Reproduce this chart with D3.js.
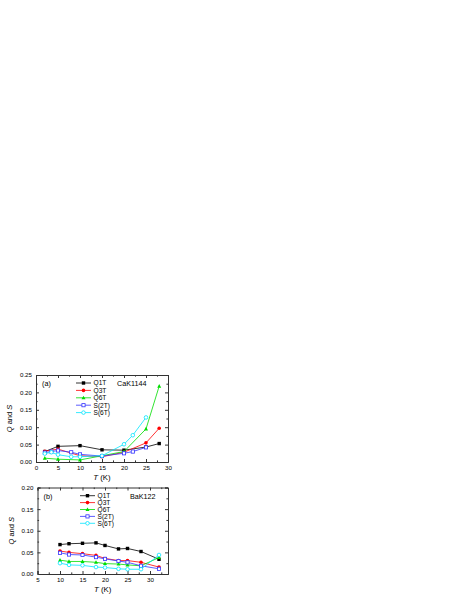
<!DOCTYPE html>
<html><head><meta charset="utf-8">
<script src="https://cdn.jsdelivr.net/npm/d3@7"></script>
<style>body{margin:0;background:#fff}svg{display:block;font-family:"Liberation Sans",Arial,sans-serif}</style>
</head><body>
<script>
// Panel (a) CaK1144
const aQx = [2, 5, 10, 15, 20, 25, 28];
const aQ1T = [0.030, 0.045, 0.047, 0.035, 0.034, 0.043, 0.053];
const aQ3T = [0.031, 0.037, 0.018, 0.015, 0.028, 0.055, 0.097];
const aQ6T = [0.011, 0.008, 0.006, 0.018, 0.030, 0.095, 0.218];
const aSx = [2, 3.5, 5, 8, 10, 15, 20, 22, 25];
const aS2T = [0.027, 0.030, 0.033, 0.028, 0.022, 0.017, 0.025, 0.030, 0.042];
const aS6T = [0.024, 0.028, 0.021, 0.015, 0.015, 0.018, 0.051, 0.077, 0.128];
const aXTicks = [0, 5, 10, 15, 20, 25, 30];
const aYTicks = [0.00, 0.05, 0.10, 0.15, 0.20, 0.25];
// Panel (b) BaK122
const bX = [10, 12, 15, 18, 20, 23, 25, 28, 32];
const bQ1T = [0.068, 0.070, 0.071, 0.072, 0.066, 0.058, 0.059, 0.052, 0.034];
const bQ3T = [0.053, 0.050, 0.047, 0.043, 0.036, 0.031, 0.031, 0.027, 0.016];
const bQ6T = [0.032, 0.029, 0.029, 0.027, 0.024, 0.023, 0.021, 0.019, 0.038];
const bS2T = [0.049, 0.045, 0.044, 0.039, 0.035, 0.030, 0.027, 0.019, 0.012];
const bS6T = [0.025, 0.021, 0.020, 0.016, 0.015, 0.012, 0.011, 0.011, 0.044];
const bXTicks = [5, 10, 15, 20, 25, 30];
const bYTicks = [0.00, 0.05, 0.10, 0.15, 0.20];
const seriesNames = ["Q1T", "Q3T", "Q6T", "S(2T)", "S(6T)"];
const colors = ["#000000", "#ff0000", "#00dd00", "#3333ff", "#00e5ff"];
const symbols = ["square", "circle", "triangle", "osquare", "ocircle"];

const svg = d3.select("body").append("svg").attr("width", 463).attr("height", 599);

function marker(g, type, x, y, color) {
  if (type === "square") g.append("rect").attr("x", x-1.7).attr("y", y-1.7).attr("width", 3.4).attr("height", 3.4).attr("fill", color);
  else if (type === "circle") g.append("circle").attr("cx", x).attr("cy", y).attr("r", 1.8).attr("fill", color);
  else if (type === "triangle") g.append("path").attr("d", `M${x},${y-2.1}L${x+2},${y+1.5}L${x-2},${y+1.5}Z`).attr("fill", color);
  else if (type === "osquare") g.append("rect").attr("x", x-1.6).attr("y", y-1.6).attr("width", 3.2).attr("height", 3.2).attr("fill", "#fff").attr("stroke", color).attr("stroke-width", 0.8);
  else if (type === "ocircle") g.append("circle").attr("cx", x).attr("cy", y).attr("r", 1.8).attr("fill", "#fff").attr("stroke", color).attr("stroke-width", 0.8);
}

function panel(opt) {
  const x = d3.scaleLinear().domain(opt.xd).range([opt.l, opt.r]);
  const y = d3.scaleLinear().domain(opt.yd).range([opt.b, opt.t]);
  const g = svg.append("g");
  const axCol = "#333";
  const xMinor = d3.range(opt.xd[0], opt.xd[1] + 0.001, 2.5).filter(v => !opt.xt.includes(v));
  const yMinor = d3.range(opt.yd[0], opt.yd[1] + 0.0001, 0.025).filter(v => !opt.yt.some(t => Math.abs(t - v) < 1e-6));
  function ax(axisFn, scale, ticks, minor, transform, labels) {
    const a = g.append("g").attr("transform", transform)
      .call(axisFn(scale).tickValues(ticks).tickSize(-3).tickPadding(labels ? 4 : 0)
        .tickFormat(labels ? (labels === "y" ? d3.format(".2f") : d3.format("d")) : ""));
    a.select(".domain").attr("stroke", axCol).attr("stroke-width", 1);
    a.selectAll(".tick line").attr("stroke", axCol);
    a.selectAll("text").attr("font-size", 6.2).attr("fill", "#000");
    const m = g.append("g").attr("transform", transform)
      .call(axisFn(scale).tickValues(minor).tickSize(-1.6).tickFormat(""));
    m.select(".domain").remove();
    m.selectAll(".tick line").attr("stroke", axCol);
  }
  ax(d3.axisBottom, x, opt.xt, xMinor, `translate(0,${opt.b})`, "x");
  ax(d3.axisTop, x, opt.xt, xMinor, `translate(0,${opt.t})`, null);
  ax(d3.axisLeft, y, opt.yt, yMinor, `translate(${opt.l},0)`, "y");
  ax(d3.axisRight, y, opt.yt, yMinor, `translate(${opt.r},0)`, null);

  const line = d3.line().x(d => x(d[0])).y(d => y(d[1]));
  opt.series.forEach((s, i) => {
    const pts = s.x.map((v, j) => [v, s.y[j]]);
    g.append("path").attr("d", line(pts)).attr("fill", "none").attr("stroke", colors[i]).attr("stroke-width", 0.8);
    pts.forEach(p => marker(g, symbols[i], x(p[0]), y(p[1]), colors[i]));
  });
  seriesNames.forEach((n, i) => {
    const ly = opt.legY + i * opt.legDy;
    g.append("line").attr("x1", opt.legX).attr("x2", opt.legX + 15).attr("y1", ly).attr("y2", ly)
      .attr("stroke", colors[i]).attr("stroke-width", 0.8);
    marker(g, symbols[i], opt.legX + 7.5, ly, colors[i]);
    g.append("text").attr("x", opt.legX + 17.5).attr("y", ly + 2.3).attr("font-size", 6.6).text(n);
  });
  g.append("text").attr("x", opt.l + 6).attr("y", opt.t + 11).attr("font-size", 7.2).text(opt.tag);
  g.append("text").attr("x", opt.nameX).attr("y", opt.t + 11).attr("font-size", 7.2).text(opt.name);
  const xt = g.append("text").attr("x", (opt.l + opt.r) / 2).attr("y", opt.b + 17.5).attr("text-anchor", "middle").attr("font-size", 7.8);
  xt.append("tspan").attr("font-style", "italic").text("T");
  xt.append("tspan").text(" (K)");
  const yt = g.append("text").attr("transform", `translate(${opt.l - 24},${(opt.t + opt.b) / 2}) rotate(-90)`).attr("text-anchor", "middle").attr("font-size", 7.5);
  yt.append("tspan").attr("font-style", "italic").text("Q");
  yt.append("tspan").text(" and ");
  yt.append("tspan").attr("font-style", "italic").text("S");
}

panel({
  l: 36, r: 168, t: 375, b: 462, xd: [0, 30], yd: [0, 0.25], xt: aXTicks, yt: aYTicks,
  series: [{x: aQx, y: aQ1T}, {x: aQx, y: aQ3T}, {x: aQx, y: aQ6T}, {x: aSx, y: aS2T}, {x: aSx, y: aS6T}],
  legX: 76, legY: 383, legDy: 7.4, tag: "(a)", name: "CaK1144", nameX: 117
});
panel({
  l: 37.5, r: 168, t: 487.5, b: 574, xd: [5, 34], yd: [0, 0.20], xt: bXTicks, yt: bYTicks,
  series: [{x: bX, y: bQ1T}, {x: bX, y: bQ3T}, {x: bX, y: bQ6T}, {x: bX, y: bS2T}, {x: bX, y: bS6T}],
  legX: 80, legY: 495.7, legDy: 6.9, tag: "(b)", name: "BaK122", nameX: 130
});
</script>
</body></html>
